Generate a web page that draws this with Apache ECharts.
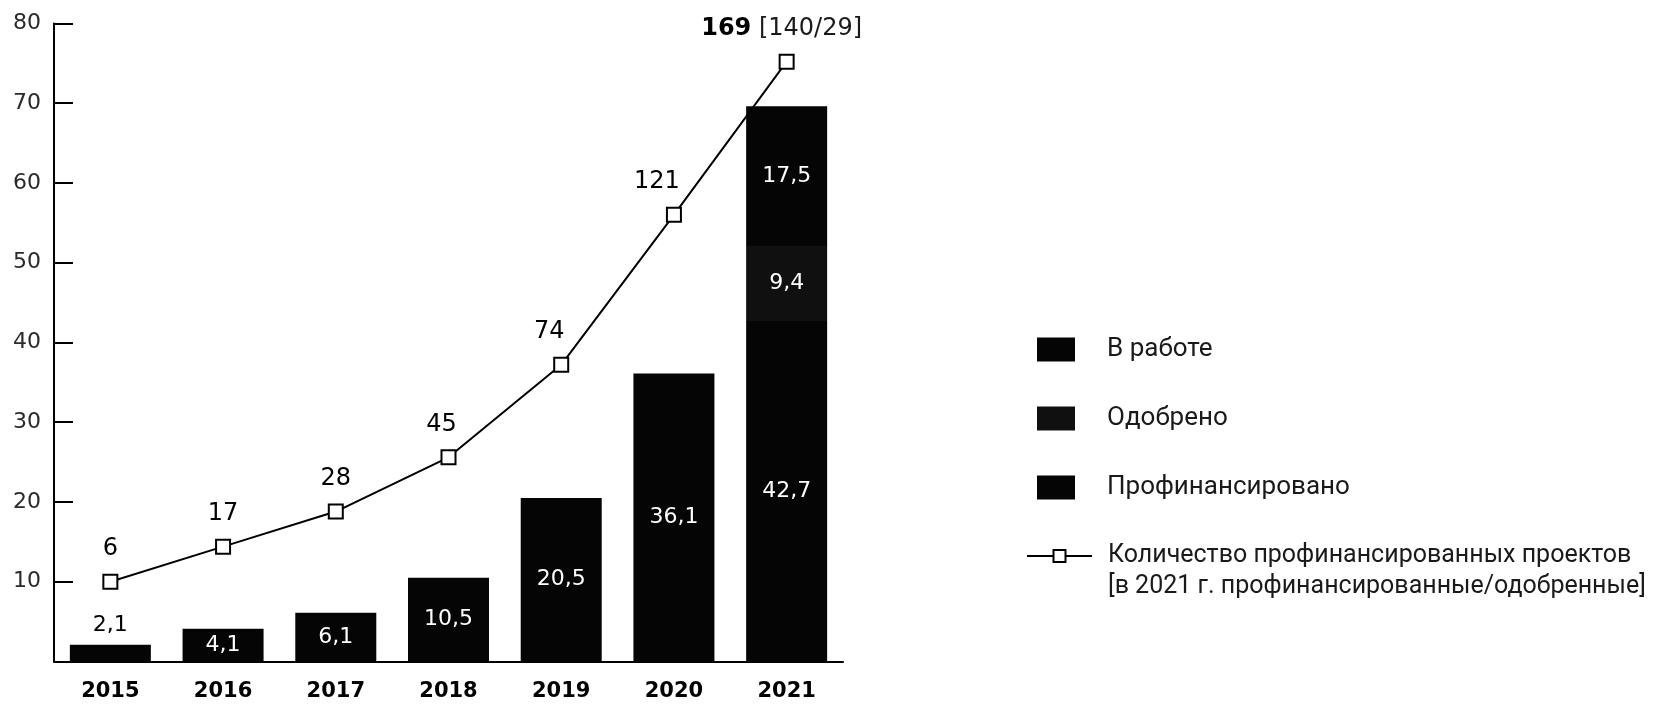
<!DOCTYPE html>
<html>
<head>
<meta charset="utf-8">
<script src="https://cdn.jsdelivr.net/npm/echarts@6/dist/echarts.min.js"></script>
<style>
html,body{margin:0;padding:0;background:#fff;}
#chart{width:1677px;height:705px;}
</style>
</head>
<body>
<div id="chart"></div>
<script>
// ---- data ----
const years = ['2015', '2016', '2017', '2018', '2019', '2020', '2021'];
const funded = [2.1, 4.1, 6.1, 10.5, 20.5, 36.1, 42.7];          // Профинансировано
const approved = [null, null, null, null, null, null, 9.4];       // Одобрено
const inWork = [null, null, null, null, null, null, 17.5];        // В работе
const projectCounts = [6, 17, 28, 45, 74, 121, 169];              // Количество проектов
const split2021 = [140, 29];                                      // профинансированные/одобренные
const yTicks = [0, 10, 20, 30, 40, 50, 60, 70, 80];

const names = {
  inWork: 'В работе',
  approved: 'Одобрено',
  funded: 'Профинансировано',
  projects: 'Количество профинансированных проектов\n[в 2021 г. профинансированные/одобренные]'
};

const numFont = 'DejaVu Sans';
const legendFont = "'Roboto', sans-serif";
const fmt = v => String(v).replace('.', ',');

const barLabel = {
  show: true, position: 'inside', color: '#fff',
  fontFamily: numFont, fontSize: 22,
  formatter: p => fmt(p.value)
};

const fundedData = funded.map(v => v < 3
  ? { value: v, label: { position: 'top', color: '#000', distance: 8 } }
  : v);

const lineLabelShift = [0, 0, 0, -7, -12, -17, -5];
const lastIdx = projectCounts.length - 1;
const lineData = projectCounts.map((v, i) => ({
  value: v,
  label: { offset: [lineLabelShift[i], 0] }
}));

const chart = echarts.init(document.getElementById('chart'), null, { renderer: 'canvas' });
chart.setOption({
  animation: false,
  backgroundColor: '#fff',
  grid: { left: 54, right: 834, top: 23.4, bottom: 43.5, containLabel: false },
  legend: [
    {
      orient: 'vertical', left: 1037, top: 336.6, padding: 0,
      icon: 'rect',
      itemWidth: 38, itemHeight: 24, itemGap: 43,
      selectedMode: false,
      data: [names.inWork, names.approved, names.funded],
      textStyle: { fontFamily: legendFont, fontSize: 26, color: '#1a1a1a', lineHeight: 24, padding: [0, 0, 0, 27] }
    },
    {
      orient: 'vertical', left: 1026, top: 509.5, padding: 0,
      itemWidth: 65, itemHeight: 15,
      selectedMode: false,
      data: [names.projects],
      // leading empty line keeps the icon level with the first text line
      formatter: name => ' \n' + name,
      textStyle: { fontFamily: legendFont, fontSize: 25, color: '#1a1a1a', lineHeight: 31, padding: [0, 0, 0, 11] }
    }
  ],
  xAxis: {
    type: 'category', data: years,
    axisLine: { show: true, lineStyle: { color: '#000', width: 2 } },
    axisTick: { show: false },
    axisLabel: { color: '#000', fontFamily: numFont, fontWeight: 'bold', fontSize: 21, margin: 20 }
  },
  yAxis: [
    {
      type: 'value', min: yTicks[0], max: yTicks[yTicks.length - 1], interval: yTicks[1] - yTicks[0],
      splitLine: { show: false },
      axisLine: { show: true, lineStyle: { color: '#000', width: 2 } },
      axisTick: { show: true, inside: true, length: 19, lineStyle: { color: '#000', width: 2 } },
      axisLabel: { color: '#2a2a2a', fontFamily: numFont, fontSize: 22, margin: 13,
        formatter: v => (v === 0 ? '' : String(v)) }
    },
    { type: 'value', show: false, min: -19, max: 181 }
  ],
  series: [
    {
      name: names.funded, type: 'bar', stack: 'total', barWidth: 81,
      itemStyle: { color: '#050505' }, label: barLabel, data: fundedData
    },
    {
      name: names.approved, type: 'bar', stack: 'total', barWidth: 81,
      itemStyle: { color: '#101010' }, label: barLabel, data: approved
    },
    {
      name: names.inWork, type: 'bar', stack: 'total', barWidth: 81,
      itemStyle: { color: '#050505' }, label: barLabel, data: inWork
    },
    {
      name: names.projects, type: 'line', yAxisIndex: 1, z: 5,
      symbol: 'rect', symbolSize: 14,
      lineStyle: { color: '#000', width: 2 },
      itemStyle: { color: '#fff', borderColor: '#000', borderWidth: 2 },
      label: {
        show: true, position: 'top', distance: 13,
        fontFamily: numFont, fontSize: 24, color: '#000',
        formatter: p => p.dataIndex === lastIdx
          ? '{b|' + p.value + '} {n|[' + split2021.join('/') + ']}'
          : String(p.value),
        rich: {
          b: { fontFamily: numFont, fontSize: 24, fontWeight: 'bold', color: '#000' },
          n: { fontFamily: numFont, fontSize: 24, color: '#1a1a1a' }
        }
      },
      data: lineData
    }
  ]
});
</script>
</body>
</html>
